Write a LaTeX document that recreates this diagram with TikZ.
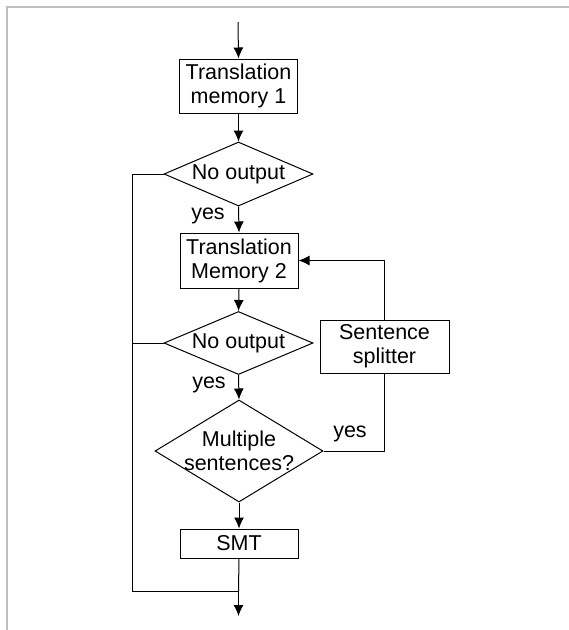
\documentclass[tikz,border=0pt]{standalone}
\usepackage{fontspec}
\setmainfont{Liberation Sans}
\usetikzlibrary{shapes.geometric,arrows.meta}
\begin{document}
\begin{tikzpicture}[x=1pt,y=-1pt,
  every node/.style={font=\fontsize{21.5}{24}\selectfont},
  procbox/.style={draw, line width=1pt, inner sep=0pt, align=center, minimum width=118pt},
  decision/.style={draw, diamond, line width=1pt, inner sep=0pt},
  lbl/.style={inner sep=0pt, align=center},
  flow/.style={line width=1pt, -{Latex[length=11pt,width=10pt]}},
  plain/.style={line width=1pt}]
\useasboundingbox (0,0) rectangle (569,630);
\draw[line width=2pt, color=black!25] (7,630) -- (7,6.5) -- (569,6.5);

\coordinate (start) at (238,22);
\node[procbox, minimum height=54pt] (tm1) at (238.5,86) {Translation\\memory 1};
\node[decision, minimum width=149pt, minimum height=64pt] (d1) at (238.5,174) {};
\node[lbl] (d1t) at (238.5,174) {No output};
\node[lbl] (y1) at (208,216) {yes};
\node[procbox, minimum height=55pt] (tm2) at (239,260.5) {Translation\\Memory 2};
\node[decision, minimum width=149pt, minimum height=63pt] (d2) at (238.5,343) {};
\node[lbl] (d2t) at (238.5,343) {No output};
\node[lbl] (y2) at (209,385) {yes};
\node[procbox, minimum width=129pt, minimum height=53pt] (ss) at (384.5,346.5) {Sentence\\splitter};
\node[decision, minimum width=168pt, minimum height=102pt] (d3) at (239,451) {};
\node[lbl] (d3t) at (239,451) {Multiple\\sentences?};
\node[lbl] (y3) at (350,434) {yes};
\node[procbox, minimum height=29pt] (smt) at (239,543.5) {SMT};
\coordinate (join) at (238.5,591);
\coordinate (endp) at (238.5,616);
\coordinate (leftx) at (132,0);
\coordinate (ssx) at (384.5,0);

\draw[flow] (start) -- (tm1.north);
\draw[flow] (tm1.south) -- (d1.north);
\draw[flow] (d1.south) -- (tm2.north);
\draw[flow] (tm2.south) -- (d2.north);
\draw[flow] (d2.south) -- (d3.north);
\draw[flow] (d3.south) -- (smt.north);
\draw[plain] (smt.south) -- (join);
\draw[flow] (join) -- (endp);
\draw[plain] (d1.west) -- (d1.west -| leftx) -- (join -| leftx) -- (join);
\draw[plain] (d2.west) -- (d2.west -| leftx);
\draw[plain] (d3.east) -- (d3.east -| ssx) -- (ss.south);
\draw[flow] (ss.north) -- (ss.north |- tm2.east) -- (tm2.east);
\end{tikzpicture}
\end{document}
